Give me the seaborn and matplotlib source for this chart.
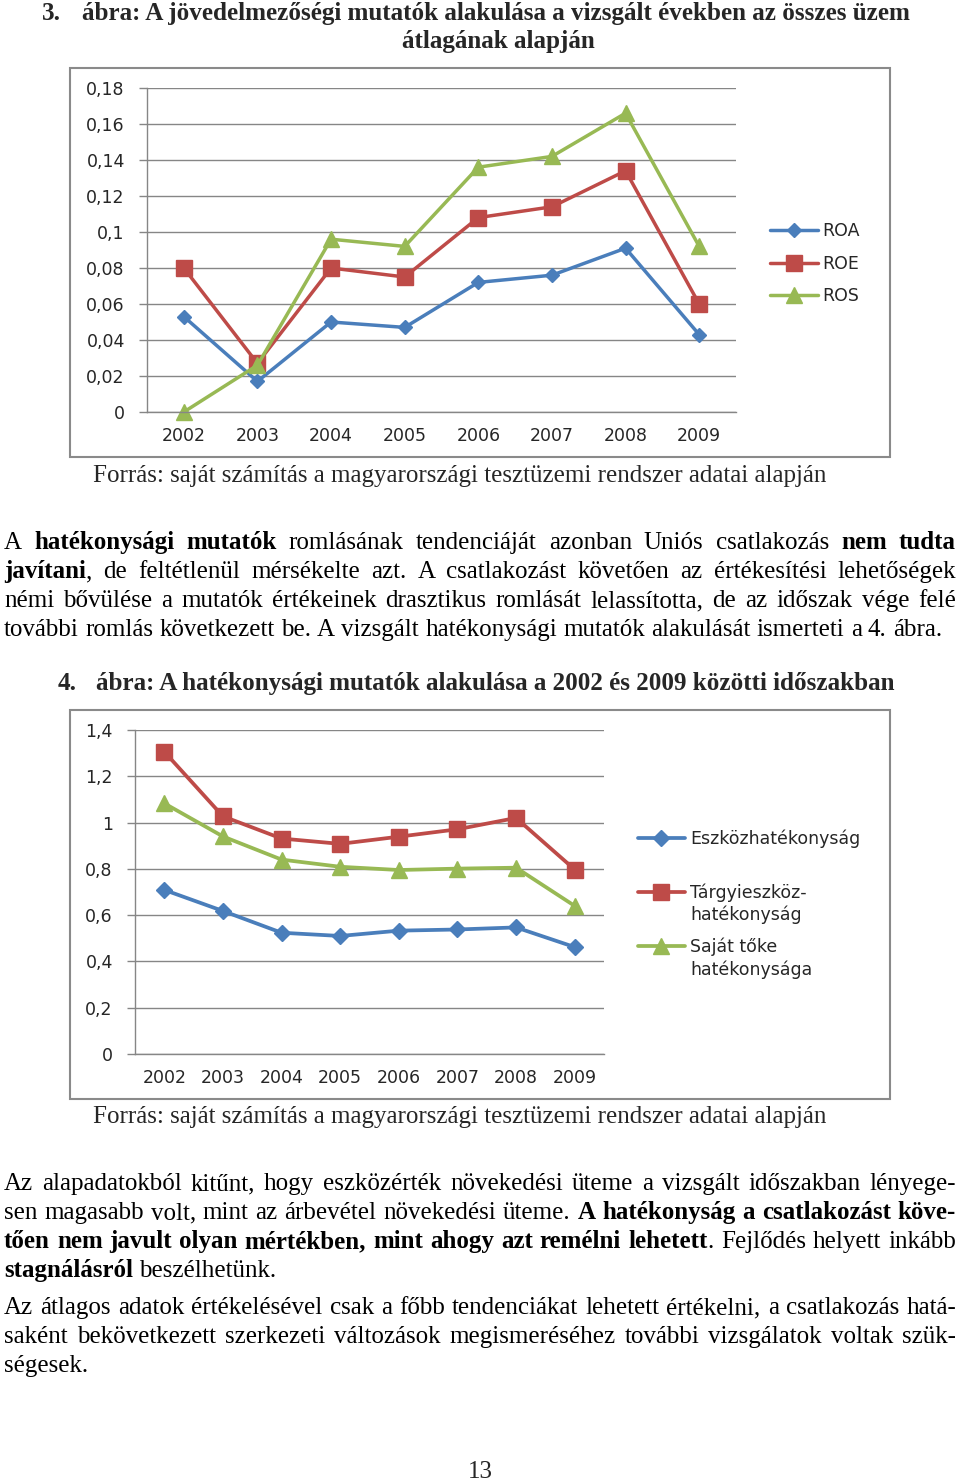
import matplotlib
matplotlib.use('Agg')
import matplotlib.pyplot as plt
from matplotlib.patches import Rectangle
import numpy as np
import pandas as pd
import seaborn as sns

# ---- data ----
evek = ['2002', '2003', '2004', '2005', '2006', '2007', '2008', '2009']

mutatok1 = ['ROA', 'ROE', 'ROS']
roa = [0.053, 0.017, 0.050, 0.047, 0.072, 0.076, 0.091, 0.043]
roe = [0.080, 0.027, 0.080, 0.075, 0.108, 0.114, 0.134, 0.060]
ros = [0.000, 0.026, 0.096, 0.092, 0.136, 0.142, 0.166, 0.092]
y1_ticks = [0, 0.02, 0.04, 0.06, 0.08, 0.10, 0.12, 0.14, 0.16, 0.18]
y1_labels = ['0', '0,02', '0,04', '0,06', '0,08', '0,1', '0,12', '0,14', '0,16', '0,18']

mutatok2 = ['Eszközhatékonyság', 'Tárgyieszköz-hatékonyság', 'Saját tőke hatékonysága']
eszkoz = [0.709, 0.618, 0.524, 0.510, 0.533, 0.538, 0.547, 0.462]
targy = [1.306, 1.027, 0.931, 0.908, 0.939, 0.971, 1.020, 0.797]
sajat = [1.083, 0.940, 0.840, 0.809, 0.795, 0.801, 0.805, 0.640]
y2_ticks = [0, 0.2, 0.4, 0.6, 0.8, 1.0, 1.2, 1.4]
y2_labels = ['0', '0,2', '0,4', '0,6', '0,8', '1', '1,2', '1,4']

cim1 = ['ábra: A jövedelmezőségi mutatók alakulása a vizsgált években az összes üzem',
        'átlagának alapján']
cim2 = 'ábra: A hatékonysági mutatók alakulása a 2002 és 2009 közötti időszakban'
forras = 'Forrás: saját számítás a magyarországi tesztüzemi rendszer adatai alapján'

bekezdes1 = [
    'A **hatékonysági mutatók** romlásának tendenciáját azonban Uniós csatlakozás **nem tudta**',
    '**javítani**, de feltétlenül mérsékelte azt. A csatlakozást követően az értékesítési lehetőségek',
    'némi bővülése a mutatók értékeinek drasztikus romlását lelassította, de az időszak vége felé',
    'további romlás következett be. A vizsgált hatékonysági mutatók alakulását ismerteti a 4. ábra.',
]
bekezdes2 = [
    'Az alapadatokból kitűnt, hogy eszközérték növekedési üteme a vizsgált időszakban lényege-',
    'sen magasabb volt, mint az árbevétel növekedési üteme. **A hatékonyság a csatlakozást köve-**',
    '**tően nem javult olyan mértékben, mint ahogy azt remélni lehetett**. Fejlődés helyett inkább',
    '**stagnálásról** beszélhetünk.',
]
bekezdes3 = [
    'Az átlagos adatok értékelésével csak a főbb tendenciákat lehetett értékelni, a csatlakozás hatá-',
    'saként bekövetkezett szerkezeti változások megismeréséhez további vizsgálatok voltak szük-',
    'ségesek.',
]

# ---- styling ----
W, H = 960, 1484
SERIF = 'Liberation Serif'
TXT = '#262626'
GRID = '#868686'
FS = 12.5
pal1 = {'ROA': '#4A7EBB', 'ROE': '#BE4B48', 'ROS': '#98B954'}
pal2 = dict(zip(mutatok2, pal1.values()))
mk1 = {'ROA': 'D', 'ROE': 's', 'ROS': '^'}
mk2 = dict(zip(mutatok2, mk1.values()))

sns.set_style('white')
plt.rcParams['font.family'] = ['DejaVu Sans']

fig = plt.figure(figsize=(W / 100, H / 100), dpi=100)
fig.patch.set_facecolor('white')
renderer = fig.canvas.get_renderer()


def fx(x):
    return x / W


def fy(y):
    return 1 - y / H


def text_w(s, size, bold=False):
    t = fig.text(0, 0, s, fontsize=size, family=SERIF,
                 fontweight='bold' if bold else 'normal')
    w = t.get_window_extent(renderer).width
    t.remove()
    return w


def parse(line):
    words = [[]]
    for i, part in enumerate(line.split('**')):
        b = i % 2 == 1
        for j, c in enumerate(part.split(' ')):
            if j > 0:
                words.append([])
            if c:
                words[-1].append((c, b))
    return [w for w in words if w]


def natural_w(line, size):
    words = parse(line)
    sp = text_w('a a', size) - text_w('aa', size)
    return sum(text_w(s, size, b) for w in words for s, b in w) + sp * (len(words) - 1)


def draw_line(line, x0, yb, size, x1=None):
    words = parse(line)
    widths = [[text_w(s, size, b) for s, b in w] for w in words]
    total = sum(sum(ws) for ws in widths)
    if x1 is not None and len(words) > 1:
        gap = (x1 - x0 - total) / (len(words) - 1)
    else:
        gap = text_w('a a', size) - text_w('aa', size)
    x = x0
    for w, ws in zip(words, widths):
        for (s, b), sw in zip(w, ws):
            fig.text(fx(x), fy(yb), s, fontsize=size, family=SERIF, color='black',
                     fontweight='bold' if b else 'normal', ha='left', va='baseline')
            x += sw
        x += gap


def paragraph(lines, y0, size, step=29):
    for i, ln in enumerate(lines):
        last = i == len(lines) - 1
        draw_line(ln, 4, y0 + i * step, size, None if last else 956)


# font sizes fitted to the line widths on the page
body = 10 * 942 / natural_w(bekezdes1[-1], 10)
tsize = 10 * 835 / text_w(cim1[0], 10, True)


def chart(ax, df, order, pal, mks, ticks, labels, ylim, ms, lw, label_pad):
    sns.lineplot(data=df, x='pos', y='ertek', hue='mutato', style='mutato',
                 hue_order=order, style_order=order, palette=pal, markers=mks,
                 dashes=False, errorbar=None, legend=False, lw=lw, ax=ax)
    for ln, m in zip(ax.lines, ms):
        ln.set_markersize(m)
        ln.set_markeredgecolor(ln.get_color())
        ln.set_markeredgewidth(1)
        ln.set_clip_on(False)
    ax.set_xlim(-0.5, 7.5)
    ax.set_ylim(*ylim)
    ax.set_xticks(range(len(evek)))
    ax.set_xticklabels(evek)
    ax.set_xticks(np.arange(-0.5, len(evek), 1), minor=True)
    ax.set_yticks(ticks)
    ax.set_yticklabels(labels)
    ax.set_xlabel('')
    ax.set_ylabel('')
    ax.tick_params(axis='x', which='major', length=0, pad=label_pad, labelsize=FS, labelcolor=TXT)
    ax.tick_params(axis='x', which='minor', length=4, width=1, color=GRID, direction='out')
    ax.tick_params(axis='y', length=6, width=1, color=GRID, pad=10, labelsize=FS, labelcolor=TXT,
                   left=True)
    ax.yaxis.grid(True, color=GRID, lw=1)
    ax.xaxis.grid(False)
    ax.set_axisbelow(True)
    for s in ['top', 'right']:
        ax.spines[s].set_visible(False)
    for s in ['left', 'bottom']:
        ax.spines[s].set_color(GRID)
        ax.spines[s].set_linewidth(1)
    ax.set_facecolor('none')


def frame(x0, y0, x1, y1):
    fig.patches.append(Rectangle((fx(x0), fy(y1)), (x1 - x0) / W, (y1 - y0) / H,
                                 transform=fig.transFigure, fill=False,
                                 edgecolor='#8a8a8a', lw=1.5))


# ---- figure 3 ----
fig.text(fx(42), fy(20), '3.', fontsize=tsize, family=SERIF, fontweight='bold',
         ha='left', va='baseline')
fig.text(fx(82), fy(20), cim1[0], fontsize=tsize, family=SERIF, fontweight='bold',
         ha='left', va='baseline')
fig.text(fx(498), fy(48), cim1[1], fontsize=tsize, family=SERIF, fontweight='bold',
         ha='center', va='baseline')

frame(70, 68, 890, 457)
ax1 = fig.add_axes([fx(147), fy(412), (736 - 147) / W, (412 - 88) / H])
d1 = pd.DataFrame({'pos': list(range(8)) * 3,
                   'ertek': roa + roe + ros,
                   'mutato': np.repeat(mutatok1, 8)})
chart(ax1, d1, mutatok1, pal1, mk1, y1_ticks, y1_labels, (0, 0.18), [7.5, 11, 11], 2.5, 10.5)
fig.legend(handles=ax1.lines, labels=mutatok1, loc='upper left',
           bbox_to_anchor=(fx(770), fy(222)), frameon=False, borderpad=0, borderaxespad=0,
           handlelength=2.76, handletextpad=0.25, labelspacing=0.84, fontsize=FS,
           labelcolor=TXT)

fig.text(fx(93), fy(482), forras, fontsize=body, family=SERIF, ha='left', va='baseline')

paragraph(bekezdes1, 549, body)

# ---- figure 4 ----
fig.text(fx(58), fy(690), '4.', fontsize=tsize, family=SERIF, fontweight='bold',
         ha='left', va='baseline')
fig.text(fx(96), fy(690), cim2, fontsize=tsize, family=SERIF, fontweight='bold',
         ha='left', va='baseline')

frame(70, 710, 890, 1099)
ax2 = fig.add_axes([fx(135), fy(1054), (604 - 135) / W, (1054 - 730) / H])
d2 = pd.DataFrame({'pos': list(range(8)) * 3,
                   'ertek': eszkoz + targy + sajat,
                   'mutato': np.repeat(mutatok2, 8)})
chart(ax2, d2, mutatok2, pal2, mk2, y2_ticks, y2_labels, (0, 1.4), [8, 12, 12], 2.7, 10.5)
fig.legend(handles=ax2.lines, labels=['Eszközhatékonyság', 'Tárgyieszköz-', 'Saját tőke'],
           loc='upper left', bbox_to_anchor=(fx(638), fy(830)), frameon=False, borderpad=0,
           borderaxespad=0, handlelength=2.7, handletextpad=0.29, labelspacing=2.02,
           fontsize=FS, labelcolor=TXT)
fig.text(fx(690), fy(915), 'hatékonyság', fontsize=FS, color=TXT, ha='left', va='center')
fig.text(fx(690), fy(970), 'hatékonysága', fontsize=FS, color=TXT, ha='left', va='center')

fig.text(fx(93), fy(1123), forras, fontsize=body, family=SERIF, ha='left', va='baseline')

paragraph(bekezdes2, 1190, body)
paragraph(bekezdes3, 1314, body)

fig.text(fx(480), fy(1478), '13', fontsize=body, family=SERIF, ha='center', va='baseline')

fig.savefig('out.png', dpi=100, facecolor='white')
